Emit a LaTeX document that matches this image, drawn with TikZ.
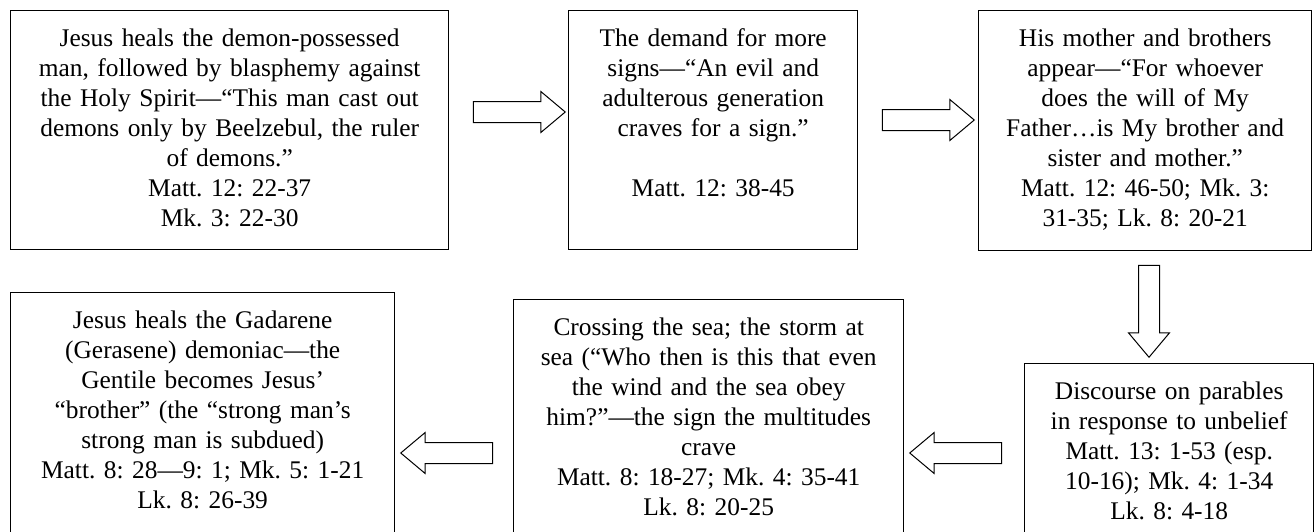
\documentclass[tikz,border=0pt]{standalone}
\usepackage{fontspec}
\setmainfont{Liberation Serif}
\usetikzlibrary{shapes.arrows, positioning}
\frenchspacing

\begin{document}
\begin{tikzpicture}[x=0.5pt, y=-0.5pt, panel/.style={draw, line width=0.7pt, anchor=north west, align=center, inner sep=0pt, text height=18pt, font=\fontsize{12.7}{15}\selectfont}, flow/.style={draw, line width=0.5pt, single arrow, single arrow head extend=5pt, single arrow tip angle=80, minimum height=46pt, inner xsep=0pt, inner ysep=5pt}]
    \useasboundingbox (0,0) rectangle (1314,531);
    \clip (0,0) rectangle (1314,531);

    \node[panel, text width=219pt, text depth=101.5pt] (b1) at (10,10) {Jesus heals the demon-possessed\\man, followed by blasphemy against\\the Holy Spirit—“This man cast out\\demons only by Beelzebul, the ruler\\of demons.”\\Matt. 12: 22-37\\Mk. 3: 22-30};
    \node[panel, text width=144.5pt, text depth=101.5pt] (b2) at (568,10) {The demand for more\\signs—“An evil and\\adulterous generation\\craves for a sign.”\\[15pt]Matt. 12: 38-45};
    \node[panel, text width=166.5pt, text depth=102pt] (b3) at (978,10) {His mother and brothers\\appear—“For whoever\\does the will of My\\Father…is My brother and\\sister and mother.”\\Matt. 12: 46-50; Mk. 3:\\31-35; Lk. 8: 20-21};
    \node[panel, text width=144.5pt, text depth=90.5pt] (b6) at (1024,363) {Discourse on parables\\in response to unbelief\\Matt. 13: 1-53 (esp.\\10-16); Mk. 4: 1-34\\Lk. 8: 4-18};
    \node[panel, text width=195pt, text depth=122.5pt] (b5) at (513,299) {Crossing the sea; the storm at\\sea (“Who then is this that even\\the wind and the sea obey\\him?”—the sign the multitudes\\crave\\Matt. 8: 18-27; Mk. 4: 35-41\\Lk. 8: 20-25};
    \node[panel, text width=192pt, text depth=126pt] (b4) at (10,292) {Jesus heals the Gadarene\\(Gerasene) demoniac—the\\Gentile becomes Jesus’\\“brother” (the “strong man’s\\strong man is subdued)\\Matt. 8: 28—9: 1; Mk. 5: 1-21\\Lk. 8: 26-39};

    \node[flow] (a12) at (513,112) {};
    \node[flow] (a23) at (922,120) {};
    \node[flow, rotate=-90] (a36) at (1149,305) {};
    \node[flow, rotate=180] (a65) at (962,453) {};
    \node[flow, rotate=180] (a54) at (453,453) {};
\end{tikzpicture}
\end{document}
